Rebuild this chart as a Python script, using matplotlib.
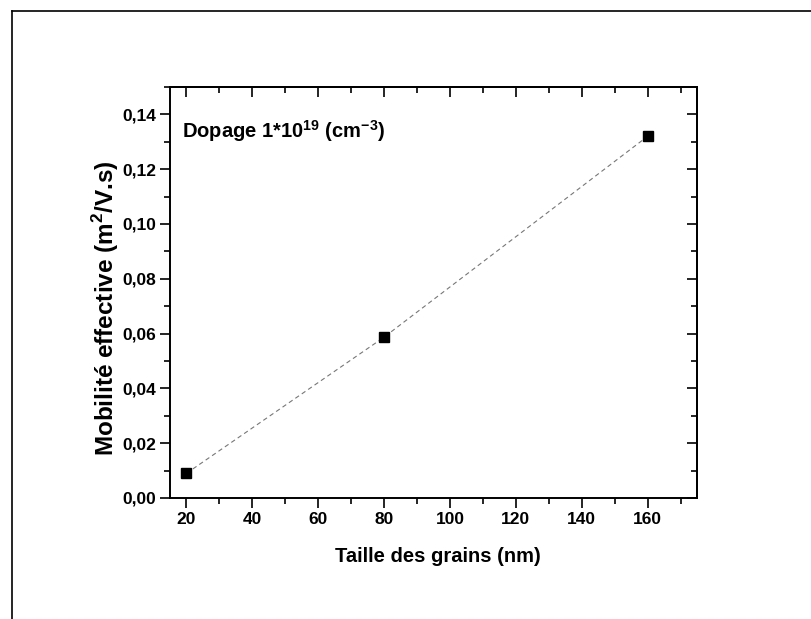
import matplotlib
matplotlib.use("Agg")
import matplotlib.pyplot as plt
from matplotlib.ticker import MultipleLocator, FuncFormatter
from matplotlib.lines import Line2D

plt.rcParams['font.family'] = ['Liberation Sans', 'DejaVu Sans']
plt.rcParams['font.weight'] = 'bold'
plt.rcParams['mathtext.fontset'] = 'custom'
plt.rcParams['mathtext.rm'] = 'Liberation Sans'
plt.rcParams['mathtext.bf'] = 'Liberation Sans:bold'

grain_size = [20, 80, 160]
mobility = [0.009, 0.0587, 0.132]
x_ticks = [20, 40, 60, 80, 100, 120, 140, 160]
y_ticks = [0.00, 0.02, 0.04, 0.06, 0.08, 0.10, 0.12, 0.14]

fig = plt.figure(figsize=(8.11, 6.19), dpi=100)
ax = fig.add_axes([170/811, 1-498/619, (697-170)/811, (498-87)/619])

ax.plot(grain_size, mobility, linestyle=(0, (4, 3)), color='#777777', linewidth=0.8, zorder=2)
ax.plot(grain_size, mobility, linestyle='none', marker='s', markersize=6.5,
        color='black', zorder=3)

ax.set_xlim(15, 175)
ax.set_ylim(0, 0.15)
ax.set_xticks(x_ticks)
ax.set_yticks(y_ticks)
ax.xaxis.set_minor_locator(MultipleLocator(10))
ax.yaxis.set_minor_locator(MultipleLocator(0.01))
ax.yaxis.set_major_formatter(FuncFormatter(lambda v, p: f"{v:.2f}".replace('.', ',')))

for s in ax.spines.values():
    s.set_linewidth(1.4)

ax.tick_params(which='both', direction='out', top=False, right=False, width=1.2,
               labelsize=12.5)
ax.tick_params(which='major', length=7, pad=3)
ax.tick_params(which='minor', length=4)
for lab in ax.get_xticklabels() + ax.get_yticklabels():
    lab.set_fontweight('bold')

# inward ticks on top and right
sec_x = ax.secondary_xaxis('top')
sec_x.set_xticks(x_ticks)
sec_x.xaxis.set_minor_locator(MultipleLocator(10))
sec_x.tick_params(which='both', direction='in', labeltop=False, width=1.2)
sec_x.tick_params(which='major', length=7)
sec_x.tick_params(which='minor', length=4)
sec_x.spines['top'].set_linewidth(1.4)
sec_y = ax.secondary_yaxis('right')
sec_y.set_yticks(y_ticks)
sec_y.yaxis.set_minor_locator(MultipleLocator(0.01))
sec_y.tick_params(which='both', direction='in', labelright=False, width=1.2)
sec_y.tick_params(which='major', length=7)
sec_y.tick_params(which='minor', length=4)
sec_y.spines['right'].set_linewidth(1.4)

ax.set_xlabel('Taille des grains (nm)', fontsize=14.5, fontweight='bold')
ax.xaxis.set_label_coords((437.5-170)/527, (498-547)/411)
ax.set_ylabel('Mobilité effective (m$^{\\mathbf{2}}$/V.s)', fontsize=17.5,
              fontweight='bold')
ax.yaxis.set_label_coords((121-170)/527, (498-308)/411)
ax.text((182-170)/527, (498-131)/411,
        'Dopage 1*10$^{\\mathbf{19}}$ (cm$^{\\mathbf{-3}}$)', fontsize=14.5,
        fontweight='bold', va='center', ha='left', transform=ax.transAxes)

# outer frame lines (top and left)
fig.add_artist(Line2D([12/811, 1], [1-11/619, 1-11/619], color='black', linewidth=1.2))
fig.add_artist(Line2D([12/811, 12/811], [0, 1-11/619], color='black', linewidth=1.2))

fig.savefig('out.png', dpi=100)
